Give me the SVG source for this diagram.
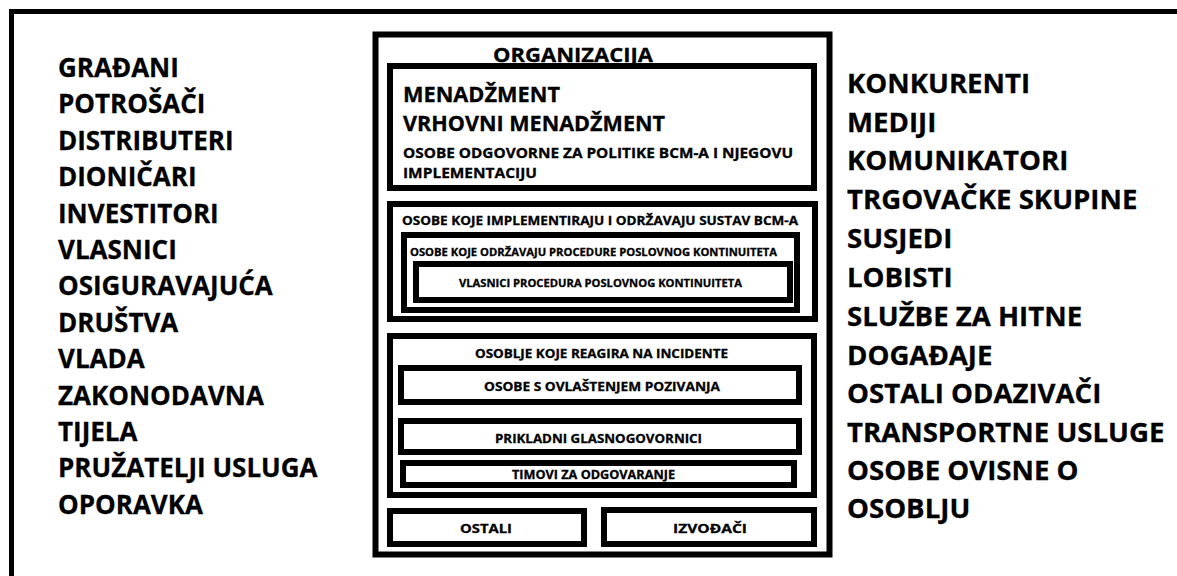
<svg xmlns="http://www.w3.org/2000/svg" width="1177" height="576" viewBox="0 0 1177 576">
<style>
text{font-family:"Open Sans","Liberation Sans",sans-serif;font-weight:bold;fill:#000;stroke:#000;stroke-width:0.3}
.box{fill:#fff;stroke:#000;stroke-width:6}
.l{font-size:26px}
.r{font-size:27.6px}
.c{text-anchor:middle}
</style>
<rect x="0" y="0" width="1177" height="576" fill="#fff"/>
<rect id="frame" x="11.5" y="11.5" width="1200" height="600" fill="#fff" stroke="#000" stroke-width="5"/>
<g id="left-list">
<text class="l" x="58" y="77">GRAĐANI</text>
<text class="l" x="58" y="113">POTROŠAČI</text>
<text class="l" x="58" y="150">DISTRIBUTERI</text>
<text class="l" x="58" y="186">DIONIČARI</text>
<text class="l" x="58" y="223">INVESTITORI</text>
<text class="l" x="58" y="259">VLASNICI</text>
<text class="l" x="58" y="295">OSIGURAVAJUĆA</text>
<text class="l" x="58" y="332">DRUŠTVA</text>
<text class="l" x="58" y="368">VLADA</text>
<text class="l" x="58" y="405">ZAKONODAVNA</text>
<text class="l" x="58" y="441">TIJELA</text>
<text class="l" x="58" y="477">PRUŽATELJI USLUGA</text>
<text class="l" x="58" y="514">OPORAVKA</text>
</g>
<g id="right-list">
<text class="r" x="847" y="93">KONKURENTI</text>
<text class="r" x="847" y="132">MEDIJI</text>
<text class="r" x="847" y="170">KOMUNIKATORI</text>
<text class="r" x="847" y="209">TRGOVAČKE SKUPINE</text>
<text class="r" x="847" y="248">SUSJEDI</text>
<text class="r" x="847" y="287">LOBISTI</text>
<text class="r" x="847" y="326">SLUŽBE ZA HITNE</text>
<text class="r" x="847" y="365">DOGAĐAJE</text>
<text class="r" x="847" y="403">OSTALI ODAZIVAČI</text>
<text class="r" x="847" y="442">TRANSPORTNE USLUGE</text>
<text class="r" x="847" y="480">OSOBE OVISNE O</text>
<text class="r" x="847" y="518">OSOBLJU</text>
</g>
<g id="organizacija">
<rect class="box" x="375.5" y="34.5" width="454" height="520" stroke-width="5"/>
<text class="c" x="573" y="62" font-size="20" textLength="160" lengthAdjust="spacingAndGlyphs">ORGANIZACIJA</text>
</g>
<g id="menadzment">
<rect class="box" x="390" y="66" width="424" height="122"/>
<text x="403" y="102" font-size="21" textLength="157" lengthAdjust="spacingAndGlyphs">MENADŽMENT</text>
<text x="403" y="131" font-size="21" textLength="262" lengthAdjust="spacingAndGlyphs">VRHOVNI MENADŽMENT</text>
<text x="403" y="158" font-size="14" textLength="390" lengthAdjust="spacingAndGlyphs">OSOBE ODGOVORNE ZA POLITIKE BCM-A I NJEGOVU</text>
<text x="403" y="178" font-size="14" textLength="134" lengthAdjust="spacingAndGlyphs">IMPLEMENTACIJU</text>
</g>
<g id="implementacija">
<rect class="box" x="390" y="204" width="425" height="115"/>
<text x="402" y="225" font-size="12.5" textLength="396" lengthAdjust="spacingAndGlyphs">OSOBE KOJE IMPLEMENTIRAJU I ODRŽAVAJU SUSTAV BCM-A</text>
</g>
<g id="odrzavanje">
<rect class="box" x="404" y="235" width="393" height="75"/>
<text x="410" y="256" font-size="11" textLength="367" lengthAdjust="spacingAndGlyphs">OSOBE KOJE ODRŽAVAJU PROCEDURE POSLOVNOG KONTINUITETA</text>
</g>
<g id="vlasnici-procedura">
<rect class="box" x="416" y="264" width="374" height="36"/>
<text class="c" x="600.5" y="287" font-size="11" textLength="283" lengthAdjust="spacingAndGlyphs">VLASNICI PROCEDURA POSLOVNOG KONTINUITETA</text>
</g>
<g id="incidenti">
<rect class="box" x="390" y="336" width="424" height="159"/>
<text class="c" x="601.5" y="358" font-size="12" textLength="253" lengthAdjust="spacingAndGlyphs">OSOBLJE KOJE REAGIRA NA INCIDENTE</text>
</g>
<g id="ovlastenje">
<rect class="box" x="401" y="368" width="398" height="34"/>
<text class="c" x="602" y="391" font-size="12.5" textLength="236" lengthAdjust="spacingAndGlyphs">OSOBE S OVLAŠTENJEM POZIVANJA</text>
</g>
<g id="glasnogovornici">
<rect class="box" x="401" y="421" width="398" height="31"/>
<text class="c" x="598.5" y="443" font-size="12.5" textLength="207" lengthAdjust="spacingAndGlyphs">PRIKLADNI GLASNOGOVORNICI</text>
</g>
<g id="timovi">
<rect class="box" x="403" y="463" width="391" height="22"/>
<text class="c" x="593.5" y="479" font-size="12" textLength="163" lengthAdjust="spacingAndGlyphs">TIMOVI ZA ODGOVARANJE</text>
</g>
<g id="ostali">
<rect class="box" x="390" y="511" width="194" height="33"/>
<text class="c" x="486" y="533" font-size="13" textLength="52" lengthAdjust="spacingAndGlyphs">OSTALI</text>
</g>
<g id="izvodjaci">
<rect class="box" x="604" y="510" width="210" height="34"/>
<text class="c" x="710" y="533" font-size="13" textLength="74" lengthAdjust="spacingAndGlyphs">IZVOĐAČI</text>
</g>
<g id="connectors"></g>
</svg>
